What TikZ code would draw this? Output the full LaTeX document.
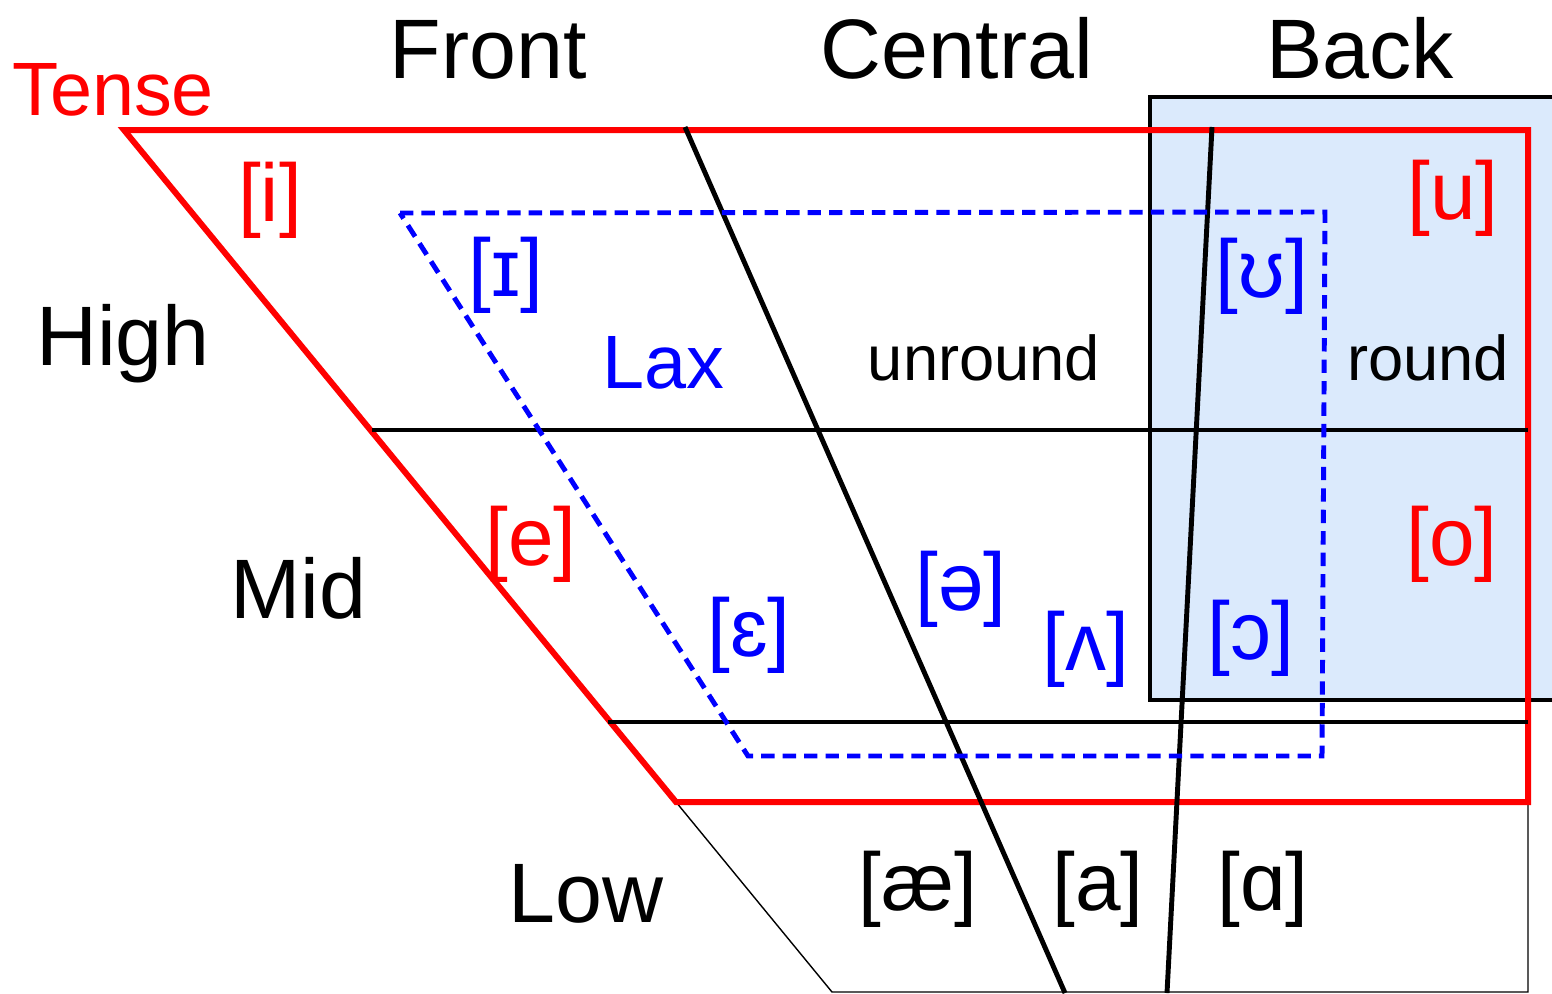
\documentclass[tikz,border=0pt]{standalone}
\usepackage{fontspec}
\setmainfont{Liberation Sans}
\definecolor{backfill}{RGB}{219,234,252}
\definecolor{tensered}{RGB}{255,0,0}
\definecolor{laxblue}{RGB}{0,0,255}
\begin{document}
\begin{tikzpicture}[x=0.01cm,y=-0.01cm,
  bigtext/.style={font=\fontsize{24}{28}\selectfont, inner sep=0pt},
  midtext/.style={font=\fontsize{21.5}{25}\selectfont, inner sep=0pt},
  smalltext/.style={font=\fontsize{18}{21}\selectfont, inner sep=0pt},
  ipa/.style={font=\fontsize{23.3}{27}\selectfont, inner sep=0pt},
  redline/.style={draw=tensered, line width=1.7pt},
  blackline/.style={draw=black, line width=1.4pt},
  thinline/.style={draw=black, line width=0.4pt},
  laxline/.style={draw=laxblue, line width=1.4pt, dash pattern=on 3.8pt off 2.3pt},
  backbox/.style={fill=backfill, draw=black, line width=1.4pt}]
\useasboundingbox (0,0) rectangle (1552,993);
\clip (0,0) rectangle (1552,993);
% back region
\draw[backbox] (1150,97) rectangle (1580,700);
% corner coordinates
\coordinate (t1) at (124,130);
\coordinate (t2) at (1528,130);
\coordinate (t3) at (1528,802);
\coordinate (t4) at (676,802);
\coordinate (b1) at (832,992);
\coordinate (b2) at (1528,992);
\coordinate (h1) at (372,430);
\coordinate (h2) at (1528,430);
\coordinate (m1) at (608,722);
\coordinate (m2) at (1528,722);
\coordinate (c1) at (685,127);
\coordinate (c2) at (1065,993);
\coordinate (k1) at (1212,127);
\coordinate (k2) at (1167,993);
\coordinate (l1) at (400,213);
\coordinate (l2) at (1325,212);
\coordinate (l3) at (1322,756);
\coordinate (l4) at (748,756);
% low region (thin)
\draw[thinline] (t4) -- (b1) -- (b2) -- (t3);
% tense region
\draw[redline, line join=miter] (t1) -- (t2) -- (t3) -- (t4) -- cycle;
% height boundaries
\draw[blackline] (h1) -- (h2);
\draw[blackline] (m1) -- (m2);
% frontness boundaries
\draw[blackline] (c1) -- (c2);
\draw[blackline] (k1) -- (k2);
% lax region
\draw[laxline] (l1) -- (l2) -- (l3) -- (l4) -- cycle;
% labels
\node[midtext, text=tensered, anchor=base] (tense) at (113,115) {Tense};
\node[bigtext, anchor=base] (front) at (488,78) {Front};
\node[bigtext, anchor=base] (central) at (957,78) {Central};
\node[bigtext, anchor=base] (back) at (1360,78) {Back};
\node[bigtext, anchor=base] (high) at (123,365) {High};
\node[bigtext, anchor=base] (mid) at (298,618) {Mid};
\node[bigtext, anchor=base] (low) at (586,922) {Low};
\node[midtext, text=laxblue, anchor=base] (lax) at (663,388) {Lax};
\node[smalltext, anchor=base] (unround) at (984,380) {unround};
\node[smalltext, anchor=base] (round) at (1428,380) {round};
% vowels
\node[ipa, text=tensered] (vi) at (270,200) {[i]};
\node[ipa, text=tensered] (vu) at (1453,198) {[u]};
\node[ipa, text=tensered] (ve) at (531,544) {[e]};
\node[ipa, text=tensered] (vo) at (1452,544) {[o]};
\node[ipa, text=laxblue] (vI) at (506,275) {[ɪ]};
\node[ipa, text=laxblue] (vU) at (1262,276) {[ʊ]};
\node[ipa, text=laxblue] (vE) at (749,635) {[ɛ]};
\node[ipa, text=laxblue] (vschwa) at (961,589) {[ə]};
\node[ipa, text=laxblue] (vV) at (1086,649) {[ʌ]};
\node[ipa, text=laxblue] (vO) at (1251,638) {[ɔ]};
\node[ipa] (vae) at (918,889) {[æ]};
\node[ipa] (va) at (1098,889) {[a]};
\node[ipa] (vA) at (1263,889) {[ɑ]};
\end{tikzpicture}
\end{document}
